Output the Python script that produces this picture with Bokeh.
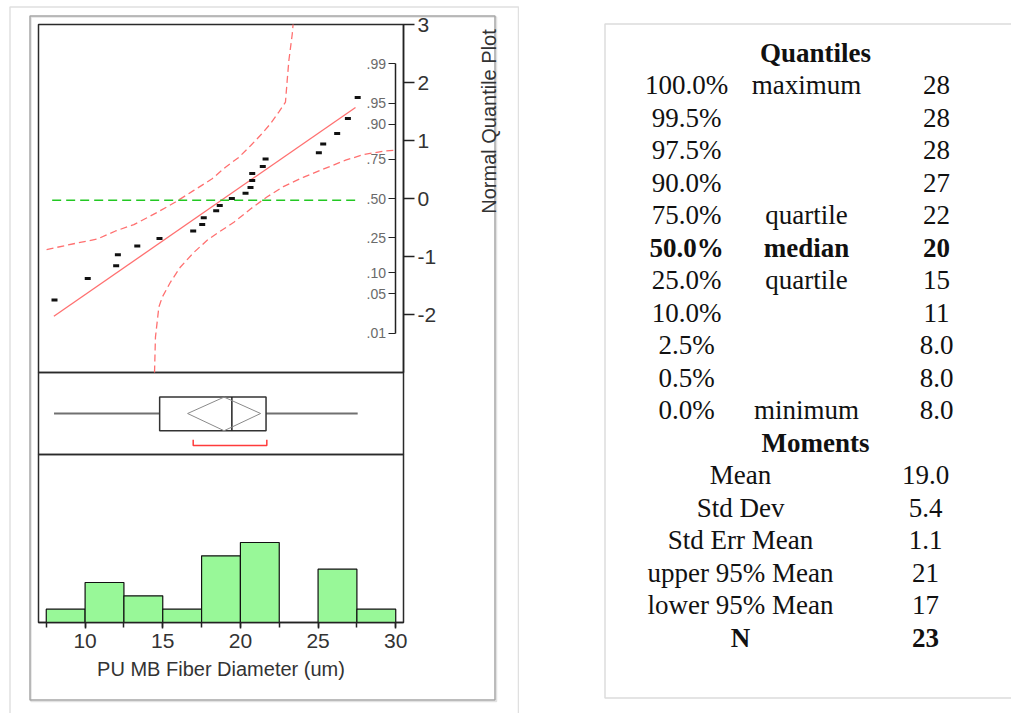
import math
from bokeh.plotting import figure
from bokeh.models import (Range1d, LinearAxis, FixedTicker, SingleIntervalTicker,
                          ColumnDataSource, BoxAnnotation, Label)
from bokeh.layouts import row
from bokeh.core.properties import value, field
from bokeh.embed import file_html
from bokeh.resources import INLINE

# ---------------- data ----------------
diameter = [8.03, 10.17, 12.00, 12.11, 13.36, 14.79, 16.96, 17.54, 17.64, 18.44, 18.67, 19.45,
            20.33, 20.65, 20.76, 20.76, 21.44, 21.62, 25.05, 25.33, 26.23, 26.92, 27.55]
normal_quantile = [-1.75, -1.38, -1.16, -0.97, -0.82, -0.69, -0.56, -0.45, -0.33, -0.21, -0.12, 0.0,
                   0.09, 0.19, 0.31, 0.43, 0.55, 0.68, 0.79, 0.94, 1.12, 1.38, 1.74]

hist_edges = [7.5, 10.0, 12.5, 15.0, 17.5, 20.0, 22.5, 25.0, 27.5, 30.0]
hist_counts = [1, 3, 2, 1, 5, 6, 0, 4, 1]

box_min, box_q1, box_median, box_q3, box_max = 8.0, 14.8, 19.45, 21.65, 27.55
mean_value, mean_lower95, mean_upper95 = 18.95, 16.6, 21.3
shortest_half = [16.96, 21.7]

fit_x = [7.99, 27.41]
fit_z = [-2.03, 1.57]
ref_x = [7.88, 27.62]
ref_z = [-0.03, -0.03]

upper_band_x = [7.52, 9.27, 10.78, 11.96, 13.14, 14.64, 15.82, 17.00, 18.18, 19.04, 19.90,
                20.65, 21.29, 21.94, 22.47, 22.90, 23.01, 23.12, 23.34, 23.39]
upper_band_z = [-0.88, -0.78, -0.70, -0.56, -0.45, -0.24, -0.06, 0.14, 0.34, 0.54, 0.71,
                0.91, 1.09, 1.29, 1.49, 1.66, 2.03, 2.38, 2.84, 3.00]
lower_band_x = [14.47, 14.53, 14.75, 14.97, 15.50, 16.14, 17.00, 17.86, 18.61, 19.58,
                20.65, 21.73, 22.80, 24.08, 25.37, 26.77, 27.95, 29.34, 29.92]
lower_band_z = [-3.00, -2.39, -1.87, -1.70, -1.44, -1.18, -0.93, -0.72, -0.58, -0.41,
                -0.18, 0.03, 0.21, 0.37, 0.51, 0.66, 0.76, 0.82, 0.83]

prob_labels = [".01", ".05", ".10", ".25", ".50", ".75", ".90", ".95", ".99"]
prob_z = [-2.326, -1.645, -1.282, -0.674, 0.0, 0.674, 1.282, 1.645, 2.326]
z_ticks = [-2, -1, 0, 1, 2, 3]
z_tick_labels = {-2: "-2", -1: "-1", 0: "0", 1: "1", 2: "2", 3: "3"}

quant_pct = ["100.0%", "99.5%", "97.5%", "90.0%", "75.0%", "50.0%", "25.0%",
             "10.0%", "2.5%", "0.5%", "0.0%"]
quant_name = ["maximum", "", "", "", "quartile", "median", "quartile", "", "", "", "minimum"]
quant_value = ["28", "28", "28", "27", "22", "20", "15", "11", "8.0", "8.0", "8.0"]
moment_name = ["Mean", "Std Dev", "Std Err Mean", "upper 95% Mean", "lower 95% Mean", "N"]
moment_value = ["19.0", "5.4", "1.1", "21", "17", "23"]

# ---------------- layout (page pixels) ----------------
PAGE_X0, PAGE_Y0 = 0, 0
W_LEFT, W_RIGHT, H = 519, 492, 713
XLO, XHI = 7.0, 30.5
HIST_TOP = 12.6


def mapper(d0, d1, p0, p1):
    k = (d1 - d0) / (p1 - p0)
    return lambda p: d0 + (p - p0) * k


px_x = mapper(XLO, XHI, 38, 403)
px_z = mapper(-3.0, 3.0, 372, 24)
px_box = mapper(0.0, 1.0, 454, 372)
px_cnt = mapper(0.0, HIST_TOP, 622, 454)

L0, L1 = PAGE_X0, PAGE_X0 + W_LEFT
T0, T1 = PAGE_Y0, PAGE_Y0 + H

pa = figure(width=W_LEFT, height=H,
            x_range=Range1d(px_x(L0), px_x(L1)), y_range=Range1d(px_z(T1), px_z(T0)),
            x_axis_location=None, y_axis_location=None, toolbar_location=None,
            output_backend="svg", min_border=0)
pa.extra_y_ranges = {"box": Range1d(px_box(T1), px_box(T0)),
                     "count": Range1d(px_cnt(T1), px_cnt(T0))}
pa.grid.visible = False
pa.outline_line_color = None
pa.background_fill_color = "white"

# decorative panels
pa.add_layout(BoxAnnotation(left=px_x(9.5), right=px_x(518), top=px_z(6.5), bottom=px_z(800),
                            fill_color=None, line_color="#e0e0e0", line_alpha=1, line_width=1.5))
pa.add_layout(BoxAnnotation(left=px_x(30.5), right=px_x(496), top=px_z(16.5), bottom=px_z(701),
                            fill_color=None, line_color="#e2e2e2", line_alpha=1, line_width=1.5))
pa.add_layout(BoxAnnotation(left=px_x(29.5), right=px_x(494.5), top=px_z(15.5), bottom=px_z(699.5),
                            fill_color=None, line_color="#a6a6a6", line_alpha=1, line_width=1.5))

frame_kw = dict(fill_color=None, line_color="#2a2a2a", line_width=1.5)
pa.quad(left=XLO, right=XHI, bottom=-3, top=3, **frame_kw)
pa.quad(left=XLO, right=XHI, bottom=0, top=1, y_range_name="box", **frame_kw)
pa.quad(left=XLO, right=XHI, bottom=0, top=HIST_TOP, y_range_name="count", **frame_kw)

# histogram
pa.quad(left=hist_edges[:-1], right=hist_edges[1:], bottom=0, top=hist_counts,
        y_range_name="count", fill_color="#98f898", line_color="#111111", line_width=1.2)

# box plot
pa.segment(x0=[box_min, box_q3], x1=[box_q1, box_max], y0=[0.5, 0.5], y1=[0.5, 0.5],
           y_range_name="box", line_color="#707070", line_width=2)
pa.quad(left=box_q1, right=box_q3, bottom=0.29, top=0.70, y_range_name="box",
        fill_color=None, line_color="#333333", line_width=1.5)
pa.segment(x0=box_median, x1=box_median, y0=0.29, y1=0.70, y_range_name="box",
           line_color="#222222", line_width=1.5)
pa.patch(x=[mean_lower95, mean_value, mean_upper95, mean_value], y=[0.5, 0.70, 0.5, 0.29],
         y_range_name="box", fill_color=None, line_color="#8a8a8a", line_width=1)
pa.line(x=[shortest_half[0], shortest_half[0], shortest_half[1], shortest_half[1]],
        y=[0.18, 0.11, 0.11, 0.18], y_range_name="box", line_color="#ff3b3b", line_width=1.5)

# normal quantile plot
band_kw = dict(line_color="#ff7070", line_dash="7 4", line_width=1.3)
pa.line(upper_band_x, upper_band_z, **band_kw)
pa.line(lower_band_x, lower_band_z, **band_kw)
pa.line(fit_x, fit_z, line_color="#ff7070", line_width=1.3)
pa.line(ref_x, ref_z, line_color="#22c822", line_dash="9 5", line_width=1.5)
pa.rect(x=diameter, y=normal_quantile, width=6, height=3, width_units="screen",
        height_units="screen", fill_color="#111111", line_color=None)

# probability axis (inside the plot)
PROB_AXIS_X = px_x(394.5)
prob_axis = LinearAxis(fixed_location=PROB_AXIS_X, bounds=(prob_z[0], prob_z[-1]),
                       ticker=FixedTicker(ticks=prob_z), major_tick_out=7, major_tick_in=0,
                       minor_tick_line_color=None, axis_line_color="#222222", axis_line_width=1.5,
                       major_tick_line_color="#222222", major_tick_line_width=1.2,
                       major_label_text_color=None, major_label_text_font_size="1px")
pa.add_layout(prob_axis, "left")
pa.text(x=[PROB_AXIS_X] * len(prob_z), y=prob_z, text=prob_labels, x_offset=-9,
        text_align="right", text_baseline="middle", text_font=value("Liberation Sans"),
        text_font_size=value("14px"), text_color="#6a6a6a")

# normal quantile axis (right edge)
z_axis = LinearAxis(fixed_location=XHI, bounds=(-3, 3), ticker=FixedTicker(ticks=z_ticks),
                    major_label_overrides=z_tick_labels,
                    major_tick_out=11, major_tick_in=0, minor_tick_line_color=None,
                    major_label_standoff=3, major_label_text_font="Liberation Sans",
                    major_label_text_font_size="21px", major_label_text_color="#333333",
                    axis_line_color="#222222", axis_line_width=1.5,
                    major_tick_line_color="#222222", major_tick_line_width=1.5)
pa.add_layout(z_axis, "right")

# x axis under the histogram
x_axis = LinearAxis(y_range_name="count", fixed_location=0, bounds=(XLO, XHI),
                    ticker=SingleIntervalTicker(interval=5, num_minor_ticks=2),
                    major_tick_out=6, major_tick_in=0, minor_tick_out=5, minor_tick_in=0,
                    axis_line_color="#222222", axis_line_width=1.5,
                    major_tick_line_color="#222222", major_tick_line_width=1.5,
                    minor_tick_line_color="#222222", minor_tick_line_width=1.5,
                    major_label_standoff=5, major_label_text_font="Liberation Sans",
                    major_label_text_font_size="21px", major_label_text_color="#333333",
                    axis_label="PU MB Fiber Diameter (um)", axis_label_standoff=7,
                    axis_label_text_font="Liberation Sans", axis_label_text_font_size="20px",
                    axis_label_text_font_style="normal", axis_label_text_color="#333333")
pa.add_layout(x_axis, "below")

pa.add_layout(Label(x=px_x(488), y=px_z(121), text="Normal Quantile Plot", angle=math.pi / 2,
                    text_align="center", text_baseline="middle", text_font="Liberation Sans",
                    text_font_size="20px", text_color="#333333"))

# ---------------- right panel: statistics table ----------------
R0, R1 = L1, L1 + W_RIGHT
pd_ = figure(width=W_RIGHT, height=H, x_range=Range1d(R0, R1), y_range=Range1d(T1, T0),
             x_axis_location=None, y_axis_location=None, toolbar_location=None,
             output_backend="svg", min_border=0)
pd_.grid.visible = False
pd_.outline_line_color = None
pd_.add_layout(BoxAnnotation(left=604.5, right=1100, top=23.5, bottom=697.5,
                             fill_color=None, line_color="#dcdcdc", line_alpha=1, line_width=1.5))

ROW0, STEP = 52.2, 32.5
HEAD_X, PCT_X, NAME_X, QVAL_X, MNAME_X, MVAL_X = 815, 686, 806, 936, 740, 925
xs, ys, texts, styles = [], [], [], []


def put(x, i, t, bold=False):
    if t:
        xs.append(x)
        ys.append(ROW0 + STEP * i)
        texts.append(t)
        styles.append("bold" if bold else "normal")


put(HEAD_X, 0, "Quantiles", True)
for i, (pc, nm, vl) in enumerate(zip(quant_pct, quant_name, quant_value)):
    b = nm == "median"
    put(PCT_X, i + 1, pc, b)
    put(NAME_X, i + 1, nm, b)
    put(QVAL_X, i + 1, vl, b)
base = len(quant_pct) + 1
put(HEAD_X, base, "Moments", True)
for j, (nm, vl) in enumerate(zip(moment_name, moment_value)):
    b = nm == "N"
    put(MNAME_X, base + 1 + j, nm, b)
    put(MVAL_X, base + 1 + j, vl, b)

src = ColumnDataSource(dict(x=xs, y=ys, text=texts, style=styles))
pd_.text(x="x", y="y", text="text", source=src, text_align="center", text_baseline="alphabetic",
         text_font=value("Liberation Serif"), text_font_size=value("27px"),
         text_font_style=field("style"), text_color="#111111")

layout = row(pa, pd_)
open("out.html", "w").write(file_html(layout, INLINE))
